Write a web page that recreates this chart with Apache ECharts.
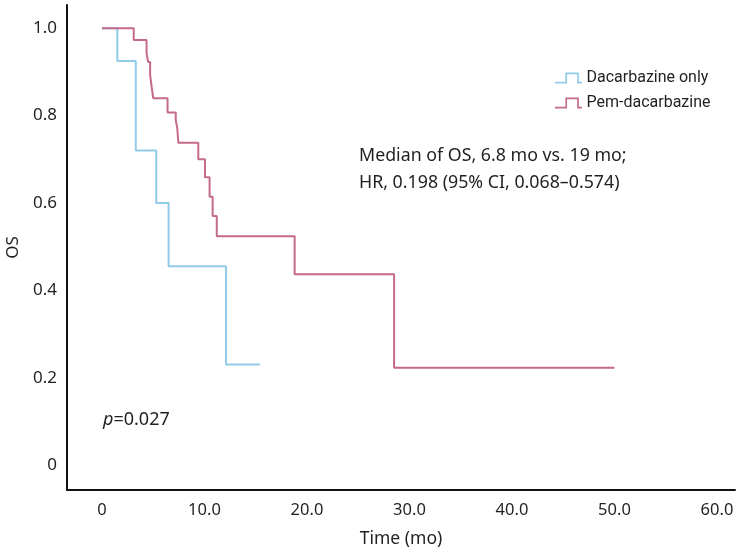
<!DOCTYPE html>
<html>
<head>
<meta charset="utf-8">
<script src="https://cdn.jsdelivr.net/npm/echarts@6/dist/echarts.min.js"></script>
<style>
    html, body { margin: 0; padding: 0; background: #fff; }
    #chart { width: 750px; height: 550px; }
</style>
</head>
<body>
<div id="chart"></div>
<script>
    // Kaplan-Meier steps (time in months, survival)
    var dacTime = [0, 1.5, 3.3, 5.3, 6.5, 12.1, 15.4]
    var dacSurv = [1.0, 0.925, 0.72, 0.60, 0.455, 0.23, 0.23]
    var pemTime = [0, 3.1, 4.35, 4.5, 4.7, 4.85, 5.0, 6.4, 7.2, 7.35, 7.45, 9.4, 10.05, 10.5, 10.8, 11.2, 18.8, 28.5, 50.0]
    var pemSurv = [1.0, 0.973, 0.943, 0.923, 0.893, 0.866, 0.840, 0.807, 0.790, 0.771, 0.738, 0.700, 0.659, 0.614, 0.570, 0.524, 0.437, 0.223, 0.223]
    var xTicks = [0, 10, 20, 30, 40, 50, 60]
    var yTicks = [0, 0.2, 0.4, 0.6, 0.8, 1.0]
    var seriesNames = ['Dacarbazine only', 'Pem-dacarbazine']

    var FONT = 'Noto Sans'
    var TEXT = '#231f20'
    // little step glyph used as legend icon
    var stepIcon = 'path://M0,9L10,9L10,0L23,0L23,9L26,9L26,10.6L21.4,10.6L21.4,1.6L11.6,1.6L11.6,10.6L0,10.6Z'

    function pairs(xs, ys) {
        return xs.map(function (x, i) { return [x, ys[i]] })
    }

    var myChart = echarts.init(document.getElementById('chart'))
    var option = {
        animation: false,
        textStyle: { fontFamily: FONT, color: TEXT },
        grid: { left: 67, right: 15, top: 5, bottom: 60, containLabel: false, outerBoundsMode: 'none' },
        legend: {
            orient: 'vertical',
            left: 550,
            top: 65,
            itemWidth: 34,
            itemHeight: 11,
            itemGap: 9,
            icon: stepIcon,
            itemStyle: { borderWidth: 0 },
            textStyle: { fontFamily: 'Roboto', fontSize: 16, color: TEXT, padding: [0, 0, 0, -4] },
            data: seriesNames
        },
        xAxis: {
            type: 'value',
            min: -3.41,
            max: 61.76,
            name: 'Time (mo)',
            nameLocation: 'middle',
            nameGap: 40,
            nameTextStyle: { fontFamily: FONT, fontSize: 17.5, color: TEXT },
            axisLine: { show: true, onZero: false, lineStyle: { color: '#111', width: 2 } },
            axisTick: { show: false },
            splitLine: { show: false },
            axisLabel: {
                customValues: xTicks,
                margin: 12,
                fontFamily: FONT,
                fontSize: 16.5,
                color: TEXT,
                formatter: function (v) { return v === 0 ? '0' : v.toFixed(1) }
            }
        },
        yAxis: {
            type: 'value',
            min: -0.0572,
            max: 1.0533,
            name: 'OS',
            nameLocation: 'middle',
            nameGap: 44,
            nameTextStyle: { fontFamily: FONT, fontSize: 17, color: TEXT },
            axisLine: { show: true, onZero: false, lineStyle: { color: '#111', width: 2 } },
            axisTick: { show: false },
            splitLine: { show: false },
            axisLabel: {
                customValues: yTicks,
                margin: 10,
                fontFamily: FONT,
                fontSize: 17,
                color: TEXT,
                formatter: function (v) { return v === 0 ? '0' : v.toFixed(1) }
            }
        },
        series: [
            {
                name: seriesNames[0],
                type: 'line',
                step: 'end',
                showSymbol: false,
                color: '#92cbe8',
                lineStyle: { width: 2, color: '#92cbe8' },
                data: pairs(dacTime, dacSurv)
            },
            {
                name: seriesNames[1],
                type: 'line',
                step: 'end',
                showSymbol: false,
                color: '#c46a8c',
                lineStyle: { width: 2, color: '#c46a8c' },
                data: pairs(pemTime, pemSurv)
            }
        ],
        graphic: [
            {
                type: 'text',
                left: 359,
                top: 142,
                style: {
                    text: 'Median of OS, 6.8 mo vs. 19 mo;\nHR, 0.198 (95% CI, 0.068\u20130.574)',
                    font: '17.8px "Noto Sans"',
                    fill: TEXT,
                    lineHeight: 27
                }
            },
            {
                type: 'text',
                left: 103,
                top: 411,
                style: {
                    text: '{i|p}=0.027',
                    font: '18px "Noto Sans"',
                    fill: TEXT,
                    rich: {
                        i: { fontStyle: 'italic', fontFamily: FONT, fontSize: 18, fill: TEXT }
                    }
                }
            }
        ]
    }
    myChart.setOption(option)
    window.addEventListener('resize', myChart.resize)
</script>
</body>
</html>
